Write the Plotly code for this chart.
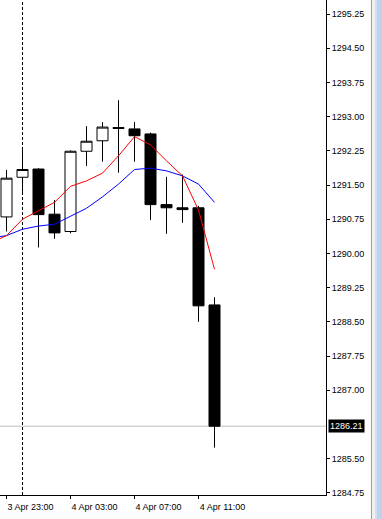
import plotly.graph_objects as go

# Hourly bar times (index 0 is only used by the moving averages, it is off-screen)
times = ["3 Apr 22:00", "3 Apr 23:00", "4 Apr 00:00", "4 Apr 01:00", "4 Apr 02:00",
         "4 Apr 03:00", "4 Apr 04:00", "4 Apr 05:00", "4 Apr 06:00", "4 Apr 07:00",
         "4 Apr 08:00", "4 Apr 09:00", "4 Apr 10:00", "4 Apr 11:00", "4 Apr 12:00"]

# OHLC for candles 1..14
opens  = [1290.80, 1291.67, 1291.85, 1290.86, 1290.48, 1292.24, 1292.47,
          1292.76, 1292.73, 1292.62, 1291.07, 1291.00, 1291.00, 1288.87]
highs  = [1291.83, 1292.33, 1291.87, 1291.17, 1292.26, 1292.79, 1292.88,
          1293.36, 1292.88, 1292.65, 1291.68, 1291.73, 1291.04, 1289.04]
lows   = [1290.48, 1291.35, 1290.13, 1290.32, 1290.44, 1291.92, 1292.01,
          1291.77, 1292.01, 1290.73, 1290.43, 1290.67, 1288.50, 1285.74]
closes = [1291.65, 1291.84, 1290.85, 1290.45, 1292.24, 1292.46, 1292.77,
          1292.74, 1292.58, 1291.07, 1291.00, 1290.96, 1288.85, 1286.21]

# Moving averages for bars 0..14
ma_fast = [1290.23, 1290.39, 1290.75, 1290.94, 1291.12, 1291.47, 1291.59, 1291.76,
           1292.14, 1292.56, 1292.38, 1292.03, 1291.70, 1290.95, 1289.65]
ma_slow = [1290.34, 1290.39, 1290.53, 1290.60, 1290.64, 1290.81, 1290.99, 1291.24,
           1291.52, 1291.84, 1291.87, 1291.81, 1291.70, 1291.52, 1291.12]

tick_labels = ["3 Apr 23:00", "4 Apr 03:00", "4 Apr 07:00", "4 Apr 11:00"]
y_ticks = [1295.25, 1294.50, 1293.75, 1293.00, 1292.25, 1291.50, 1290.75, 1290.00,
           1289.25, 1288.50, 1287.75, 1287.00, 1285.50, 1284.75]

idx_all = list(range(len(times)))
idx_candles = idx_all[1:]
tick_idx = [times.index(t) for t in tick_labels]
# day separator: first bar of the new day
sep_idx = next(i for i in range(1, len(times)) if times[i].split()[0] != times[i - 1].split()[0])

W, H = 382, 519
ML, MR, MT, MB = 0, 56, 0, 24
PW, PH = W - ML - MR, H - MT - MB
FONT = "Liberation Sans"

fig = go.Figure()
fig.add_trace(go.Candlestick(
    x=idx_candles, open=opens, high=highs, low=lows, close=closes,
    increasing=dict(line=dict(color="black", width=1), fillcolor="white"),
    decreasing=dict(line=dict(color="black", width=1), fillcolor="black"),
    whiskerwidth=0, showlegend=False, hoverinfo="skip"))
fig.add_trace(go.Scatter(x=idx_all, y=ma_slow, mode="lines",
                         line=dict(color="#0000ff", width=1), showlegend=False, hoverinfo="skip"))
fig.add_trace(go.Scatter(x=idx_all, y=ma_fast, mode="lines",
                         line=dict(color="#ff0000", width=1), showlegend=False, hoverinfo="skip"))

# pixel -> axis mapping: candle spacing 16px, first candle centre at 6.5px
spacing_px = 16.0
first_px = 6.5
x0 = 1 - first_px / spacing_px
x1 = x0 + PW / spacing_px

px_per_unit = 45.6
ytop_val = y_ticks[0] + 14 / px_per_unit
ybot_val = ytop_val - PH / px_per_unit

last = closes[-1]

def pxx(p):
    return (p - ML) / PW

def pxy(p):
    return 1 - (p - MT) / PH

shapes = [
    dict(type="line", xref="paper", yref="y", x0=0, x1=1, y0=last, y1=last,
         line=dict(color="#c0c0c0", width=1), layer="below"),
    dict(type="line", xref="x", yref="paper", x0=sep_idx, x1=sep_idx, y0=0, y1=1,
         line=dict(color="black", width=1, dash="3px,2px"), layer="below"),
    # window frame / scrollbar on the right
    dict(type="rect", xref="paper", yref="paper", x0=pxx(372), x1=pxx(383), y0=pxy(H + 1), y1=pxy(-1),
         fillcolor="#f0f0f0", line=dict(width=0)),
    dict(type="line", xref="paper", yref="paper", x0=pxx(371.5), x1=pxx(371.5), y0=pxy(H), y1=pxy(0),
         line=dict(color="#a0a0a0", width=1)),
    dict(type="rect", xref="paper", yref="paper", x0=pxx(375), x1=pxx(383), y0=pxy(H + 1), y1=pxy(-1),
         fillcolor="#bcd2ee", line=dict(width=0)),
    dict(type="line", xref="paper", yref="paper", x0=pxx(376), x1=pxx(376), y0=pxy(H), y1=pxy(0),
         line=dict(color="#e8f0fa", width=1)),
]

fig.update_layout(
    width=W, height=H,
    margin=dict(l=ML, r=MR, t=MT, b=MB, pad=0),
    paper_bgcolor="white", plot_bgcolor="white",
    font=dict(family=FONT, size=9, color="black"),
    boxgap=0.3125, boxgroupgap=0,
    shapes=shapes,
    xaxis=dict(range=[x0, x1], showgrid=False, zeroline=False, showline=True,
               linecolor="black", linewidth=1, ticks="outside", ticklen=3, tickcolor="black",
               tickvals=tick_idx, ticktext=tick_labels, ticklabelshift=24,
               tickfont=dict(family=FONT, size=9, color="black"),
               rangeslider=dict(visible=False), fixedrange=True),
    yaxis=dict(range=[ybot_val, ytop_val], side="right", showgrid=False, zeroline=False,
               showline=True, linecolor="black", linewidth=1, ticks="outside", ticklen=3,
               tickcolor="black", tickvals=y_ticks, tickformat=".2f",
               tickfont=dict(family=FONT, size=9, color="black"), fixedrange=True),
    annotations=[dict(xref="paper", yref="y", x=1, y=last, xanchor="left", yanchor="middle",
                      xshift=2, text=f"{last:.2f}", showarrow=False, bgcolor="black",
                      font=dict(family=FONT, size=9, color="white"), borderpad=1)],
)

fig.write_html("out.html", config={"displayModeBar": False},
               post_script="document.body.style.margin='0';document.body.style.overflow='hidden';")
